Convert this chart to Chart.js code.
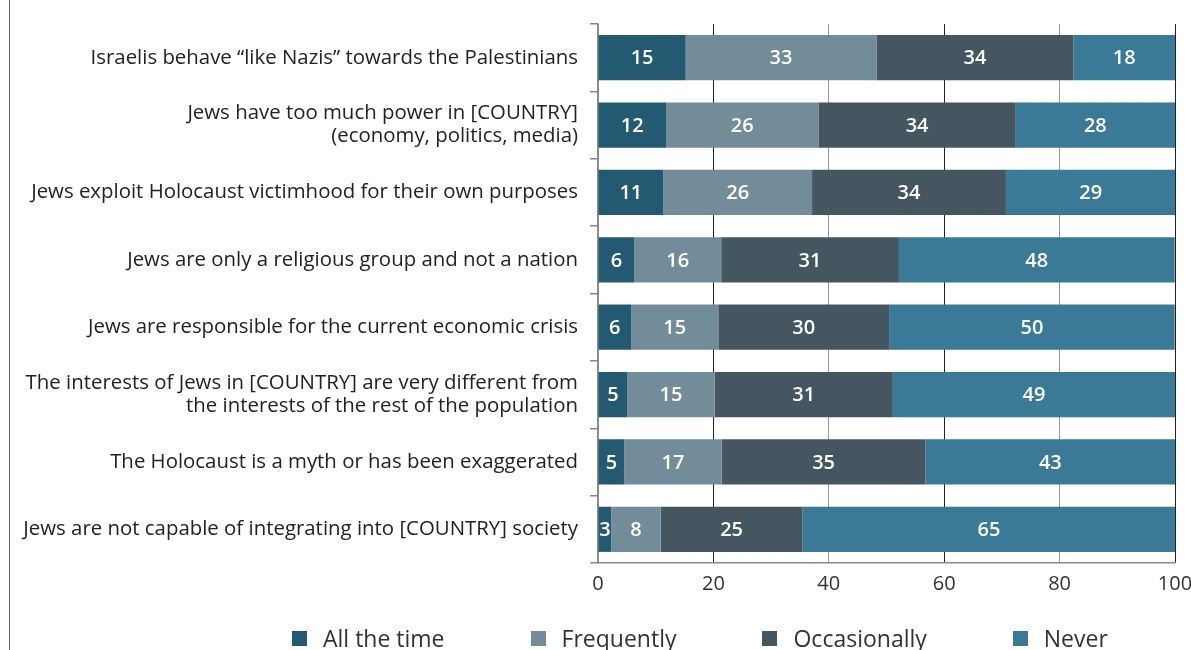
<!DOCTYPE html>
<html>
<head>
<meta charset="utf-8">
<script src="https://cdn.jsdelivr.net/npm/chart.js@4"></script>
<style>
  html, body { margin: 0; padding: 0; background: #fff; overflow: hidden; }
  #wrap { position: relative; width: 1191px; height: 650px; }
  #frame { position: absolute; left: 9px; top: 0; width: 1px; height: 650px; background: #666; }
  #legend { position: absolute; left: 292px; top: 622px; display: flex; gap: 86px;
    font: 23px "Open Sans", sans-serif; color: #333; white-space: nowrap; }
  #legend .item { display: flex; align-items: center; }
  #legend .box { width: 15px; height: 15px; margin-right: 16px; }
</style>
</head>
<body>
<div id="wrap">
  <div id="frame"></div>
  <canvas id="chart" width="1191" height="650"></canvas>
  <div id="legend"></div>
</div>
<script>
const categories = [
  "Israelis behave \u201clike Nazis\u201d towards the Palestinians",
  ["Jews have too much power in [COUNTRY]", "(economy, politics, media)"],
  "Jews exploit Holocaust victimhood for their own purposes",
  "Jews are only a religious group and not a nation",
  "Jews are responsible for the current economic crisis",
  ["The interests of Jews in [COUNTRY] are very different from", "the interests of the rest of the population"],
  "The Holocaust is a myth or has been exaggerated",
  "Jews are not capable of integrating into [COUNTRY] society",
];

// bar lengths (%)
const allTheTime = [15.2, 11.8, 11.3, 6.3, 5.75, 5.1, 4.55, 2.3];
const frequently = [33.05, 26.4, 25.8, 15.05, 15.1, 15.1, 16.9, 8.55];
const occasionally = [34.15, 34.2, 33.6, 30.8, 29.6, 30.9, 35.3, 24.6];
const never = [17.6, 27.6, 29.4, 47.8, 49.5, 48.9, 43.3, 64.6];

// numbers printed on the bars
const allTheTimeLabels = [15, 12, 11, 6, 6, 5, 5, 3];
const frequentlyLabels = [33, 26, 26, 16, 15, 15, 17, 8];
const occasionallyLabels = [34, 34, 34, 31, 30, 31, 35, 25];
const neverLabels = [18, 28, 29, 48, 50, 49, 43, 65];

const xTicks = [0, 20, 40, 60, 80, 100];

const FONT = "'Open Sans', sans-serif";

const barLabels = {
  id: "barLabels",
  afterDatasetsDraw(chart) {
    const ctx = chart.ctx;
    ctx.save();
    ctx.font = `600 20px ${FONT}`;
    ctx.fillStyle = "#fff";
    ctx.textAlign = "center";
    ctx.textBaseline = "middle";
    chart.data.datasets.forEach((ds, i) => {
      chart.getDatasetMeta(i).data.forEach((bar, j) => {
        const { x, y, base } = bar.getProps(["x", "y", "base"], true);
        ctx.fillText(String(ds.printed[j]), (x + base) / 2, y + 1);
      });
    });
    ctx.restore();
  },
};

const datasets = [
  { label: "All the time", data: allTheTime, printed: allTheTimeLabels, backgroundColor: "#235a72" },
  { label: "Frequently", data: frequently, printed: frequentlyLabels, backgroundColor: "#738c99" },
  { label: "Occasionally", data: occasionally, printed: occasionallyLabels, backgroundColor: "#455660" },
  { label: "Never", data: never, printed: neverLabels, backgroundColor: "#3a7a96" },
].map((d) => ({ ...d, borderWidth: 0, barPercentage: 0.67, categoryPercentage: 1 }));

const chart = new Chart(document.getElementById("chart"), {
  type: "bar",
  data: { labels: categories, datasets },
  plugins: [barLabels],
  options: {
    responsive: false,
    animation: false,
    indexAxis: "y",
    layout: { padding: { top: 24, right: 16, bottom: 45, left: 0 } },
    plugins: { legend: { display: false }, tooltip: { enabled: false } },
    scales: {
      x: {
        stacked: true,
        min: 0,
        max: 100,
        afterBuildTicks: (scale) => { scale.ticks = xTicks.map((v) => ({ value: v })); },
        afterFit: (scale) => { scale.paddingRight = 0; },
        border: { color: "#888", width: 1.5 },
        grid: {
          drawTicks: false,
          lineWidth: 1,
          color: (c) => (c.tick && c.tick.value % 40 === 20 ? "#222" : "#999"),
        },
        ticks: { color: "#333", padding: 9, font: { family: FONT, size: 20 } },
      },
      y: {
        stacked: true,
        afterFit: (scale) => { scale.width = 598; },
        border: { color: "#888", width: 1.5 },
        grid: { drawOnChartArea: false, drawTicks: true, tickLength: 8, color: "#888", lineWidth: 1.5 },
        ticks: { color: "#222", padding: 12, font: { family: FONT, size: 20.4, lineHeight: 1.12 } },
      },
    },
  },
});

const legendEl = document.getElementById("legend");
for (const ds of chart.data.datasets) {
  const item = document.createElement("div");
  item.className = "item";
  const box = document.createElement("span");
  box.className = "box";
  box.style.background = ds.backgroundColor;
  const txt = document.createElement("span");
  txt.textContent = ds.label;
  item.appendChild(box);
  item.appendChild(txt);
  legendEl.appendChild(item);
}
</script>
</body>
</html>
